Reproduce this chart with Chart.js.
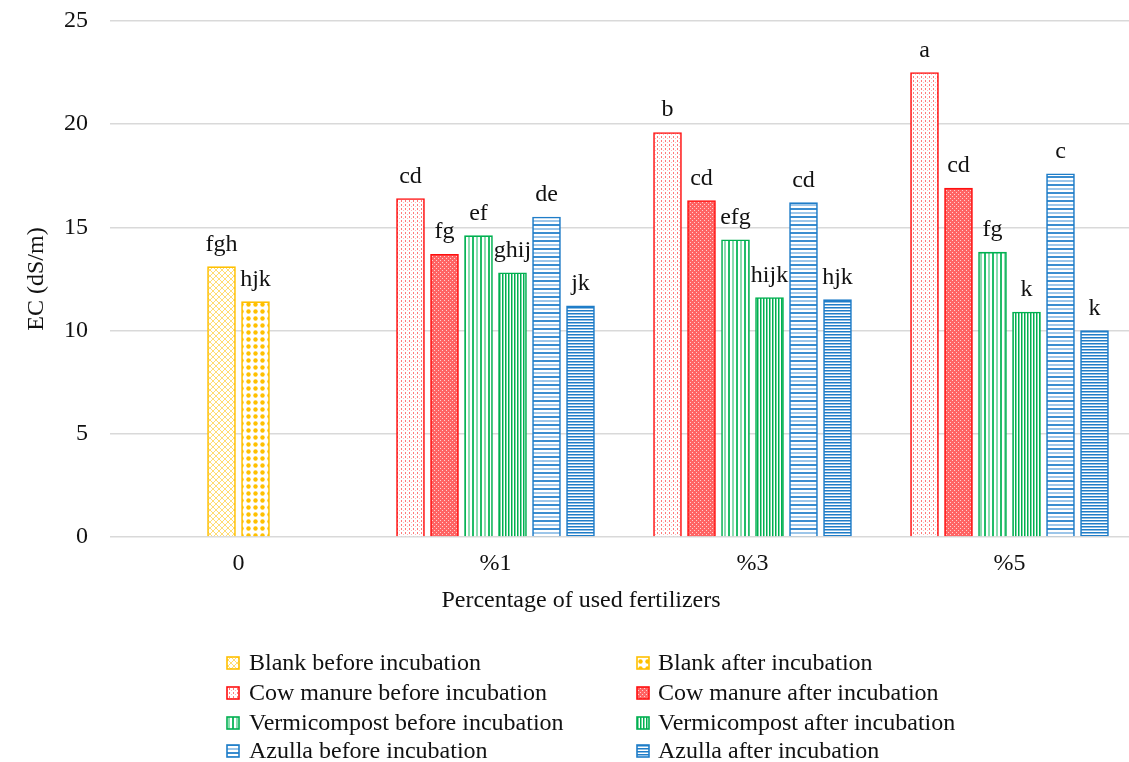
<!DOCTYPE html>
<html>
<head>
<meta charset="utf-8">
<script src="https://cdn.jsdelivr.net/npm/chart.js@4.4.1/dist/chart.umd.min.js"></script>
<style>
    body { margin: 0; background: #fff; }
    canvas { display: block; }
</style>
</head>
<body>
<canvas id="ecChart" width="1129" height="762"></canvas>
<script>
const categories = ['0', '%1', '%3', '%5'];

const blankBefore = [13.1, null, null, null];
const blankAfter = [11.4, null, null, null];
const cowBefore = [null, 16.4, 19.6, 22.5];
const cowAfter = [null, 13.7, 16.3, 16.9];
const vermiBefore = [null, 14.6, 14.4, 13.8];
const vermiAfter = [null, 12.8, 11.6, 10.9];
const azullaBefore = [null, 15.5, 16.2, 17.6];
const azullaAfter = [null, 11.2, 11.5, 10.0];

// significance letters above the bars
const blankBeforeLetters = ['fgh', '', '', ''];
const blankAfterLetters = ['hjk', '', '', ''];
const cowBeforeLetters = ['', 'cd', 'b', 'a'];
const cowAfterLetters = ['', 'fg', 'cd', 'cd'];
const vermiBeforeLetters = ['', 'ef', 'efg', 'fg'];
const vermiAfterLetters = ['', 'ghij', 'hijk', 'k'];
const azullaBeforeLetters = ['', 'de', 'cd', 'c'];
const azullaAfterLetters = ['', 'jk', 'hjk', 'k'];

const FONT = "'Liberation Serif', 'Times New Roman', serif";

function makePattern(w, h, draw) {
    const c = document.createElement('canvas');
    c.width = w;
    c.height = h;
    const g = c.getContext('2d');
    g.fillStyle = '#fff';
    g.fillRect(0, 0, w, h);
    draw(g);
    return g.createPattern(c, 'repeat');
}

const yellow = '#FFC000';
const red = '#FF1010';
const green = '#00B050';
const blue = '#1F7DC8';

const patterns = {
    blankBefore: makePattern(6, 6, g => {
        g.strokeStyle = 'rgba(255,192,0,0.55)';
        g.lineWidth = 1;
        g.beginPath();
        g.moveTo(0, 0); g.lineTo(6, 6);
        g.moveTo(6, 0); g.lineTo(0, 6);
        g.stroke();
    }),
    blankAfter: makePattern(7, 7, g => {
        g.fillStyle = yellow;
        g.beginPath();
        g.arc(3.5, 3.5, 2.2, 0, Math.PI * 2);
        g.fill();
    }),
    cowBefore: makePattern(4, 4, g => {
        g.fillStyle = '#FF7A7A';
        g.fillRect(1, 0, 1, 2);
        g.fillStyle = '#FFB8B8';
        g.fillRect(3, 2, 1, 1);
    }),
    cowAfter: makePattern(4, 4, g => {
        g.fillStyle = '#FF6464';
        g.fillRect(0, 0, 4, 4);
        g.fillStyle = '#FFD0D0';
        g.fillRect(0, 0, 1, 1);
        g.fillRect(2, 2, 1, 1);
    }),
    vermiBefore: makePattern(8, 8, g => {
        g.fillStyle = '#22BC68';
        g.fillRect(0, 0, 2, 8);
        g.fillStyle = '#8ADDB0';
        g.fillRect(4, 0, 2, 8);
    }),
    vermiAfter: makePattern(6, 6, g => {
        g.fillStyle = green;
        g.fillRect(1, 0, 1.5, 6);
        g.fillRect(4, 0, 1.5, 6);
    }),
    azullaBefore: makePattern(8, 8, g => {
        g.fillStyle = '#3A8DD0';
        g.fillRect(0, 0, 8, 2);
        g.fillStyle = '#9CC6EA';
        g.fillRect(0, 4, 8, 2);
    }),
    azullaAfter: makePattern(6, 6, g => {
        g.fillStyle = blue;
        g.fillRect(0, 1, 6, 1.5);
        g.fillRect(0, 4, 6, 1.5);
    })
};

function series(label, data, letters, pattern, color) {
    return {
        label: label,
        data: data,
        letters: letters,
        backgroundColor: pattern,
        borderColor: color,
        borderWidth: 1.6,
        barThickness: 34,
        maxBarThickness: 28,
        skipNull: true
    };
}

const datasets = [
    series('Blank before incubation', blankBefore, blankBeforeLetters, patterns.blankBefore, yellow),
    series('Blank after incubation', blankAfter, blankAfterLetters, patterns.blankAfter, yellow),
    series('Cow manure before incubation', cowBefore, cowBeforeLetters, patterns.cowBefore, red),
    series('Cow manure after incubation', cowAfter, cowAfterLetters, patterns.cowAfter, red),
    series('Vermicompost before incubation', vermiBefore, vermiBeforeLetters, patterns.vermiBefore, green),
    series('Vermicompost after incubation', vermiAfter, vermiAfterLetters, patterns.vermiAfter, green),
    series('Azulla before incubation', azullaBefore, azullaBeforeLetters, patterns.azullaBefore, blue),
    series('Azulla after incubation', azullaAfter, azullaAfterLetters, patterns.azullaAfter, blue)
];

// letters above bars, x axis title and the two-column legend
const extras = {
    id: 'extras',
    afterLayout(chart) {
        // the original plot runs a bit past the right edge of the picture
        const xs = chart.scales.x;
        const right = chart.width + 9;
        xs.right = right;
        xs.width = right - xs.left;
        xs.configure();
        chart.chartArea.right = right;
        chart.chartArea.width = right - chart.chartArea.left;

        // and starts close to the top
        const ys = chart.scales.y;
        const top = 21;
        ys.top = top;
        ys.height = ys.bottom - top;
        ys.configure();
        chart.chartArea.top = top;
        chart.chartArea.height = chart.chartArea.bottom - top;
    },
    afterDatasetsDraw(chart) {
        const ctx = chart.ctx;
        ctx.save();
        ctx.font = `24px ${FONT}`;
        ctx.fillStyle = '#111';
        ctx.textAlign = 'center';
        ctx.textBaseline = 'alphabetic';
        chart.data.datasets.forEach((ds, i) => {
            const meta = chart.getDatasetMeta(i);
            meta.data.forEach((bar, j) => {
                const txt = ds.letters[j];
                if (!txt || ds.data[j] === null) return;
                ctx.fillText(txt, bar.x, bar.y - 16);
            });
        });
        ctx.restore();
    },
    afterDraw(chart) {
        const ctx = chart.ctx;
        ctx.save();
        ctx.font = `24px ${FONT}`;
        ctx.fillStyle = '#111';
        ctx.textAlign = 'center';
        ctx.textBaseline = 'alphabetic';
        ctx.fillText('Percentage of used fertilizers', 581, 607);

        // legend
        const rows = [663, 693, 723, 751];
        const boxX = [227, 637];
        const textX = [249, 658];
        ctx.textAlign = 'left';
        ctx.textBaseline = 'middle';
        chart.data.datasets.forEach((ds, i) => {
            const col = i % 2;
            const y = rows[Math.floor(i / 2)];
            ctx.fillStyle = ds.backgroundColor;
            ctx.fillRect(boxX[col], y - 6, 12, 12);
            ctx.strokeStyle = ds.borderColor;
            ctx.lineWidth = 1.6;
            ctx.strokeRect(boxX[col], y - 6, 12, 12);
            ctx.fillStyle = '#111';
            ctx.fillText(ds.label, textX[col], y + 1);
        });
        ctx.restore();
    }
};

new Chart(document.getElementById('ecChart').getContext('2d'), {
    type: 'bar',
    data: {
        labels: categories,
        datasets: datasets
    },
    options: {
        responsive: false,
        animation: false,
        layout: {
            padding: { top: 5, right: 0, bottom: 135, left: 0 }
        },
        plugins: {
            legend: { display: false },
            tooltip: { enabled: false }
        },
        scales: {
            x: {
                grid: { display: false, drawTicks: false },
                border: { display: false },
                ticks: {
                    padding: 12,
                    color: '#111',
                    font: { family: FONT, size: 24 }
                },
                afterFit(scale) { scale.height = 90; }
            },
            y: {
                min: 0,
                max: 25,
                ticks: {
                    stepSize: 5,
                    padding: 22,
                    color: '#111',
                    font: { family: FONT, size: 24 }
                },
                grid: { color: '#d9d9d9', lineWidth: 1.5, drawTicks: false },
                border: { display: false },
                title: {
                    display: true,
                    text: 'EC (dS/m)',
                    color: '#111',
                    font: { family: FONT, size: 24 },
                    padding: { top: 22, bottom: 0 }
                },
                afterFit(scale) { scale.width = 110; }
            }
        }
    },
    plugins: [extras]
});
</script>
</body>
</html>
